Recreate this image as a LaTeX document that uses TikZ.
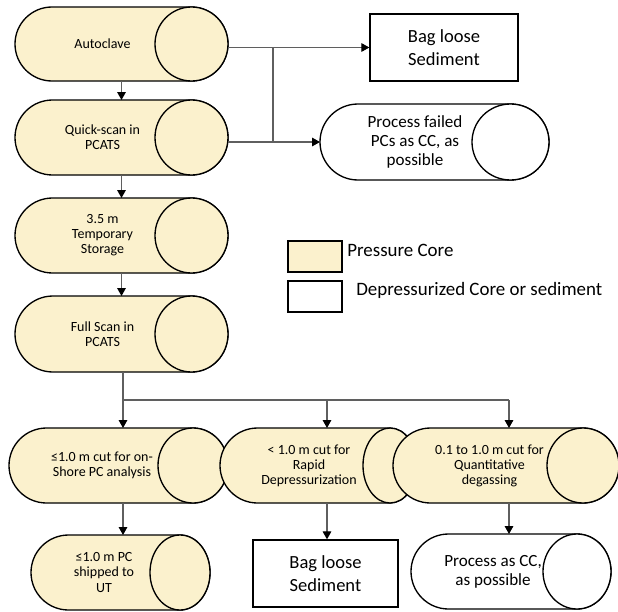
\documentclass[tikz,border=0pt]{standalone}
\usepackage{fontspec}
\setmainfont{Carlito}
\usetikzlibrary{arrows.meta,calc}
\definecolor{pcfill}{RGB}{251,241,205}
\definecolor{linegray}{RGB}{95,95,95}
\tikzset{
  x=0.75pt, y=-0.75pt,
  cylbox/.style 2 args={draw=none, inner sep=0pt, outer sep=0pt,
    minimum width=#1*0.75pt, minimum height=#2*0.75pt},
  shapeline/.style={draw=black, line width=1pt},
  stxt/.style={inner sep=0pt, align=center, font=\fontsize{10.5}{11.3}\selectfont},
  mtxt/.style={inner sep=0pt, align=center, font=\fontsize{12.8}{14}\selectfont},
  sqbox/.style 2 args={shapeline, fill=white, inner sep=0pt, align=center,
    minimum width=#1*0.75pt, minimum height=#2*0.75pt,
    font=\fontsize{13.9}{17.5}\selectfont},
  legbox/.style={shapeline, minimum width=54*0.75pt, minimum height=31*0.75pt, inner sep=0pt},
  legtxt/.style={inner sep=0pt, anchor=west, font=\fontsize{14.2}{17}\selectfont},
  conn/.style={draw=linegray, line width=0.8pt},
  arr/.style={conn, -{Triangle[length=6pt,width=6.5pt,color=black]}},
}
\newcommand\cylshape[3]{%
  \path[shapeline, fill=#3] let \p1=(#1.south west), \p2=(#1.north east),
    \n1={(\y2-\y1)/2}, \n2={#2*0.75} in
    ({\x1+\n1*1pt},\y2) -- ({\x2-\n2*1pt},\y2)
    arc[start angle=90, end angle=-90, x radius={\n2*1pt}, y radius={\n1*1pt}]
    -- ({\x1+\n1*1pt},\y1)
    arc[start angle=270, end angle=90, x radius={\n1*1pt}, y radius={\n1*1pt}]
    -- cycle;
  \path[shapeline, fill=#3] let \p1=(#1.south west), \p2=(#1.north east),
    \n1={(\y2-\y1)/2}, \n2={#2*0.75}, \n3={(\y1+\y2)/2} in
    ({\x2-\n2*1pt},{\n3*1pt}) ellipse [x radius={\n2*1pt}, y radius={\n1*1pt}];
}
\begin{document}
\begin{tikzpicture}
\useasboundingbox (0,0) rectangle (618,611);

% left column
\node[cylbox={213}{74}] (auto) at (121.5,44) {};
\cylshape{auto}{36.5}{pcfill}
\node[stxt] (auto-t) at ([xshift=-19*0.75pt]auto.center) {Autoclave};

\node[cylbox={213}{75}] (quick) at (121.5,137.5) {};
\cylshape{quick}{36.5}{pcfill}
\node[stxt] (quick-t) at ([xshift=-19*0.75pt]quick.center) {Quick-scan in\\PCATS};

\node[cylbox={213}{75}] (temp) at (121.5,235.5) {};
\cylshape{temp}{36.5}{pcfill}
\node[stxt] (temp-t) at ([xshift=-19*0.75pt]temp.center) {3.5 m\\Temporary\\Storage};

\node[cylbox={213}{76}] (full) at (121.5,334) {};
\cylshape{full}{36.5}{pcfill}
\node[stxt] (full-t) at ([xshift=-19*0.75pt]full.center) {Full Scan in\\PCATS};

% top right
\node[sqbox={148}{67}] (bag1) at (444,47.5) {Bag loose\\Sediment};

\node[cylbox={229}{76}] (pf) at (434.5,142) {};
\cylshape{pf}{38.5}{white}
\node[mtxt] (pf-t) at ([xshift=-19.5*0.75pt]pf.center) {Process failed\\PCs as CC, as\\possible};

% legend
\node[legbox, fill=pcfill] (leg1) at (315,256.5) {};
\node[legtxt] (leg1-t) at (347,250) {Pressure Core};
\node[legbox, fill=white] (leg2) at (315,296.5) {};
\node[legtxt] (leg2-t) at (356,290) {Depressurized Core or sediment};

% bottom row
\node[cylbox={219}{75}] (cut1) at (118.5,465.5) {};
\cylshape{cut1}{35}{pcfill}
\node[stxt] (cut1-t) at ([xshift=-16.5*0.75pt]cut1.center) {≤1.0 m cut for on-\\Shore PC analysis};

\node[cylbox={197}{75}] (rapid) at (318.5,465.5) {};
\cylshape{rapid}{27}{pcfill}
\node[stxt] (rapid-t) at ([xshift=-9.5*0.75pt]rapid.center) {< 1.0 m cut for\\Rapid\\Depressurization};

\node[cylbox={226}{75}] (quant) at (506,465.5) {};
\cylshape{quant}{36}{pcfill}
\node[stxt] (quant-t) at ([xshift=-16.5*0.75pt]quant.center) {0.1 to 1.0 m cut for\\Quantitative\\degassing};

\node[cylbox={179}{75}] (ship) at (120.5,572.5) {};
\cylshape{ship}{30}{pcfill}
\node[stxt] (ship-t) at ([xshift=-16.5*0.75pt]ship.center) {≤1.0 m PC\\shipped to\\UT};

\node[sqbox={145}{67}] (bag2) at (325.5,573.5) {Bag loose\\Sediment};

\node[cylbox={200}{75}] (pcc) at (511,571.5) {};
\cylshape{pcc}{34}{white}
\node[mtxt] (pcc-t) at ([xshift=-18*0.75pt]pcc.center) {Process as CC,\\as possible};

% connectors
\draw[arr] (auto.south) -- (quick.north);
\draw[arr] (quick.south) -- (temp.north);
\draw[arr] (temp.south) -- (full.north);

\draw[arr] (bag1.west -| auto.east) -- (bag1.west);
\draw[arr] (pf.west -| quick.east) -- (pf.west);
\coordinate (ja) at (273,47.5);
\coordinate (jb) at (273,142);
\draw[conn] (ja) -- (jb);

\coordinate (jc) at (123,400);
\coordinate (jr) at (327,400);
\coordinate (jq) at (509,400);
\draw[conn] (full.south -| jc) -- (jc) -- (jq);
\draw[arr] (jc) -- (jc |- cut1.north);
\draw[arr] (jr) -- (jr |- rapid.north);
\draw[arr] (jq) -- (jq |- quant.north);

\draw[arr] (jc |- cut1.south) -- (jc |- ship.north);
\draw[arr] (jr |- rapid.south) -- (jr |- bag2.north);
\draw[arr] (jq |- quant.south) -- (jq |- pcc.north);
\end{tikzpicture}
\end{document}
